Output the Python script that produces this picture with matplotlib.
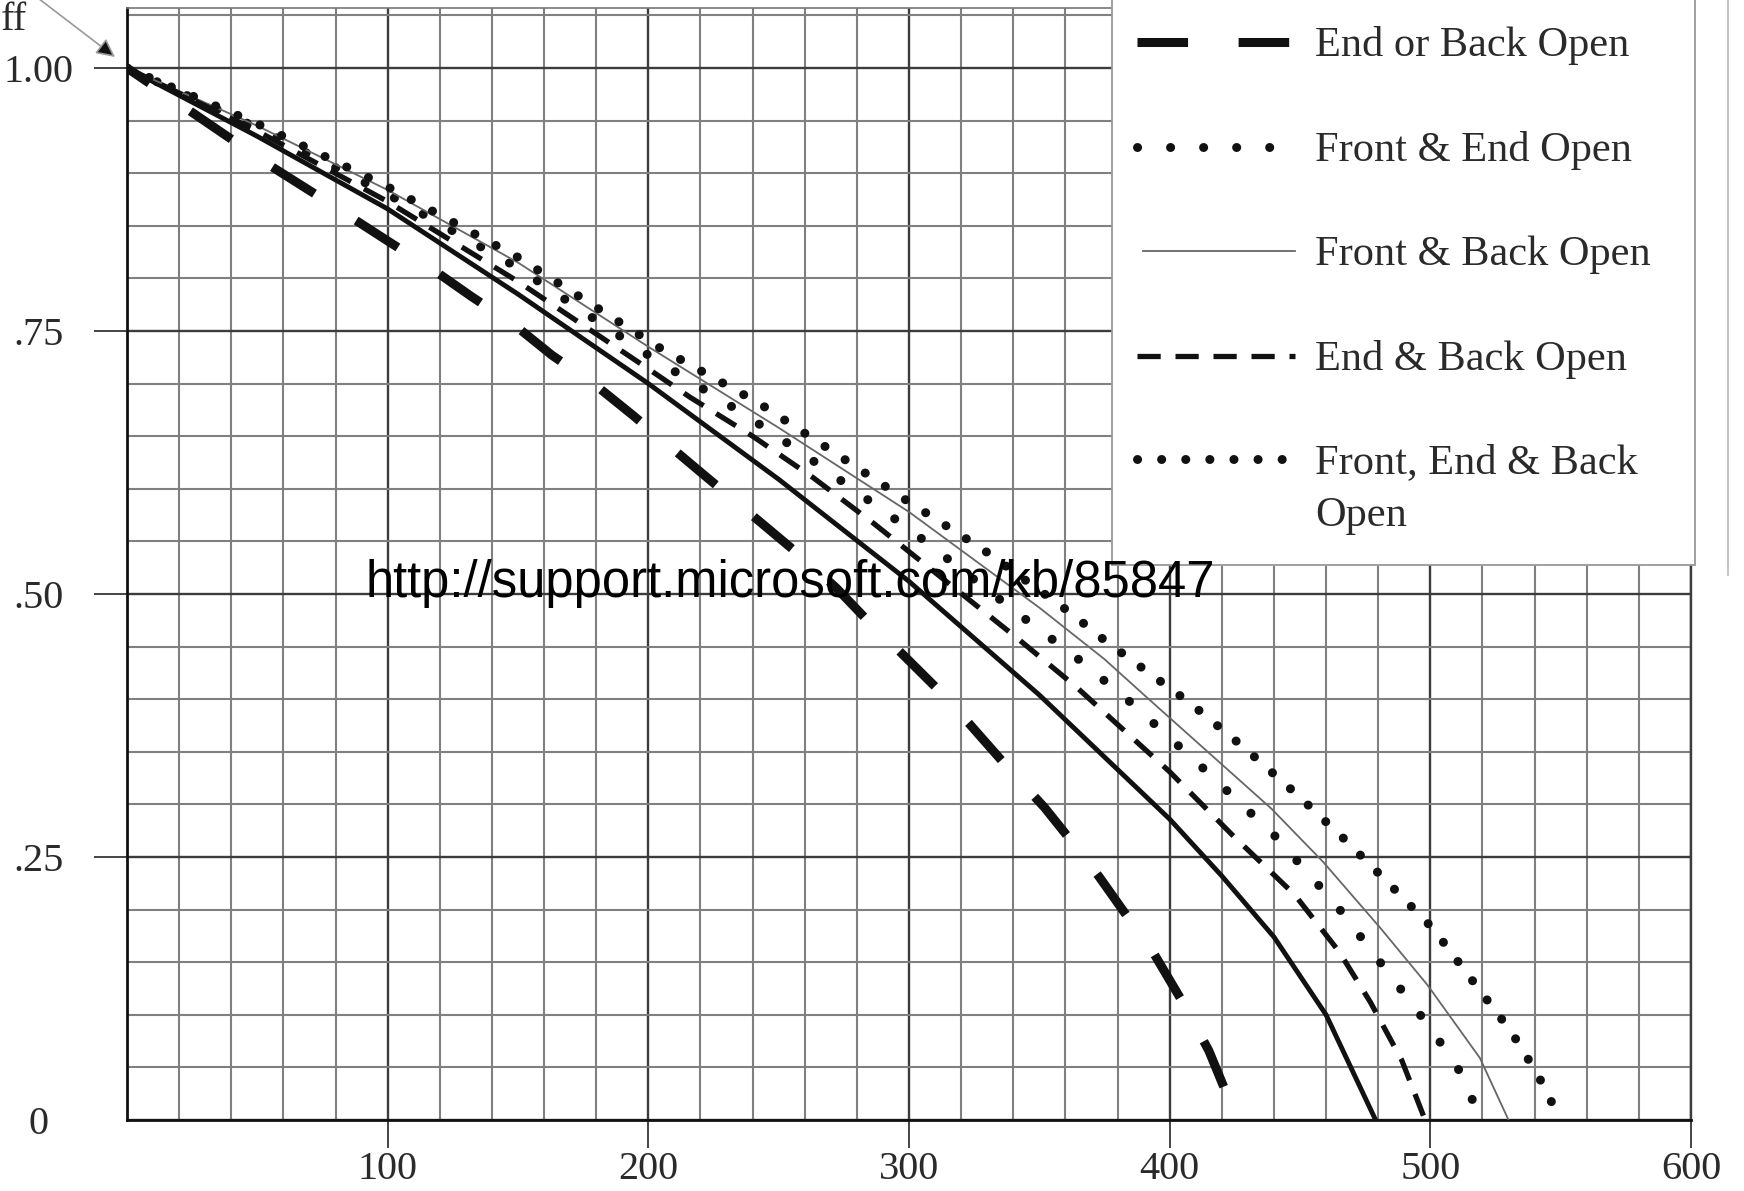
import matplotlib.pyplot as plt
import numpy as np
from matplotlib.patches import Rectangle
from matplotlib.lines import Line2D

plt.rcParams['font.family'] = ['Liberation Serif', 'DejaVu Serif']

# values: x (0-600) against fraction (0-1)
x_solid = [0, 50, 100, 150, 200, 250, 300, 350, 400, 420, 440, 460, 479]
y_solid = [1.0, 0.935, 0.866, 0.785, 0.700, 0.609, 0.512, 0.404, 0.286, 0.232, 0.174, 0.100, 0.0]

x_end_or_back = [0, 55, 71, 86, 101, 117, 132, 149, 163, 180, 194, 207, 219, 233, 246, 259,
                 272, 284, 297, 310, 323, 339, 352, 363, 373, 383, 394, 405, 415, 422, 426]
y_end_or_back = [1.0, 0.907, 0.882, 0.858, 0.834, 0.809, 0.783, 0.755, 0.727, 0.698, 0.670,
                 0.643, 0.618, 0.589, 0.562, 0.535, 0.506, 0.475, 0.444, 0.412, 0.377, 0.332,
                 0.297, 0.263, 0.231, 0.196, 0.158, 0.112, 0.066, 0.024, 0.0]

x_front_end = [0, 50, 100, 150, 200, 238, 259, 280, 301, 342, 364, 385, 413, 440, 464, 486, 501, 513, 519]
y_front_end = [1.0, 0.943, 0.880, 0.810, 0.727, 0.669, 0.634, 0.597, 0.560, 0.481, 0.440, 0.397,
               0.334, 0.271, 0.204, 0.133, 0.084, 0.040, 0.0]

x_front_back = [0, 50, 100, 150, 200, 250, 300, 350, 375, 392, 439, 459, 481, 499, 519, 530]
y_front_back = [1.0, 0.945, 0.884, 0.815, 0.735, 0.658, 0.578, 0.487, 0.438, 0.400, 0.296, 0.245,
                0.182, 0.128, 0.059, 0.0]

x_end_back = [0, 50, 100, 150, 200, 216, 240, 263, 286, 342, 364, 372, 400, 424, 448, 465, 477, 489, 498]
y_end_back = [1.0, 0.940, 0.873, 0.797, 0.714, 0.687, 0.650, 0.611, 0.568, 0.457, 0.412, 0.394,
              0.331, 0.271, 0.214, 0.160, 0.112, 0.057, 0.0]

x_all_three = [0, 50, 100, 150, 205, 242, 271, 299, 328, 362, 375, 408, 429, 449, 467, 484, 501,
               516, 531, 541, 550]
y_all_three = [1.0, 0.947, 0.887, 0.820, 0.733, 0.682, 0.635, 0.589, 0.543, 0.482, 0.456, 0.396,
               0.353, 0.309, 0.267, 0.225, 0.182, 0.133, 0.084, 0.044, 0.0]

legend_labels = ['End or Back Open', 'Front & End Open', 'Front & Back Open',
                 'End & Back Open', 'Front, End & Back\nOpen']
x_ticks = [100, 200, 300, 400, 500, 600]
y_ticks = [0, 0.25, 0.5, 0.75, 1.0]
y_tick_labels = ['0', '.25', '.50', '.75', '1.00']

# line styles
st_solid = dict(color='#111111', lw=3.5, solid_capstyle='butt', solid_joinstyle='round')
st_end_or_back = dict(color='#111111', lw=6.5, linestyle=(2.5, (5.5, 5.5)), dash_capstyle='butt')
st_front_end = dict(color='#111111', lw=6.5, linestyle=(0, (0.01, 3.65)), dash_capstyle='round')
st_front_back = dict(color='#666666', lw=1.3)
st_end_back = dict(color='#111111', lw=3.8, linestyle=(0, (4.4, 2.8)), dash_capstyle='butt')
st_all_three = dict(color='#111111', lw=6.5, linestyle=(0, (0.01, 2.66)), dash_capstyle='round')

W, H = 1744, 1191
fig = plt.figure(figsize=(W / 100, H / 100), dpi=100)
ax = fig.add_axes([127 / W, 71 / H, 1564 / W, 1112 / H])
ax.set_xlim(0, 600)
ax.set_ylim(0, 1.057)

# grid paper
ax.set_xticks(np.arange(20, 600, 20), minor=True)
ax.set_yticks(np.arange(0.05, 1.06, 0.05), minor=True)
ax.set_xticks(x_ticks)
ax.set_yticks(y_ticks)
ax.set_yticklabels(y_tick_labels)
ax.set_axisbelow(True)
ax.grid(which='minor', color='#808080', lw=1.5)
ax.grid(which='major', color='#3c3c3c', lw=1.7)
ax.tick_params(which='minor', length=0)
ax.tick_params(which='major', direction='out', color='#444444', width=1.4,
               labelsize=29, labelcolor='#2a2a2a')
ax.tick_params(axis='x', length=20, pad=2)
ax.tick_params(axis='y', length=24, pad=40)
for lab in ax.get_yticklabels():
    lab.set_ha('center')
ax.yaxis.get_major_ticks()[0].tick1line.set_visible(False)

for side in ['left', 'bottom']:
    ax.spines[side].set_color('#111111')
    ax.spines[side].set_linewidth(2.0)
ax.spines['top'].set_color('#777777')
ax.spines['top'].set_linewidth(1.2)
ax.spines['right'].set_color('#3c3c3c')
ax.spines['right'].set_linewidth(1.7)

# curves
ax.plot(x_solid, y_solid, zorder=4, **st_solid)
ax.plot(x_end_or_back, y_end_or_back, zorder=4, **st_end_or_back)
ax.plot(x_front_end, y_front_end, zorder=4, **st_front_end)
ax.plot(x_front_back, y_front_back, zorder=4, **st_front_back)
ax.plot(x_end_back, y_end_back, zorder=4, **st_end_back)
ax.plot(x_all_three, y_all_three, zorder=4, **st_all_three)

# legend box (runs off the top of the scan)
ax.add_patch(Rectangle((377.7, 0.528), 224, 0.7, fc='white', ec='#999999', lw=1.3,
                       zorder=3, clip_on=False))
fig.add_artist(Line2D([1728 / W, 1728 / W], [1 - 575 / H, 1.0], transform=fig.transFigure,
                      color='#bbbbbb', lw=1.2))

leg_end_or_back = dict(st_end_or_back, linestyle=(0, (5.6, 5.6)))
styles = [leg_end_or_back, st_front_end, st_front_back, st_end_back, st_all_three]
handle_x = [(1137, 1296), (1137, 1291), (1143, 1295), (1137, 1295), (1137, 1291)]
centers = [42, 147, 251, 356, 459]
for lab, st, (x0, x1), yc in zip(legend_labels, styles, handle_x, centers):
    yf = 1 - yc / H
    fig.add_artist(Line2D([x0 / W, x1 / W], [yf, yf], transform=fig.transFigure, **st))
    for j, line in enumerate(lab.split('\n')):
        fig.text(1315 / W, 1 - (yc + 14 + 53 * j) / H, line, fontsize=30.5, color='#2a2a2a',
                 va='baseline', ha='left')

# cut-off axis label and its arrow
fig.text(27 / W, 1 - 2 / H, 'ff', fontsize=29, color='#2a2a2a', ha='right', va='top')
ax.annotate('', xy=(115 / W, 1 - 57 / H), xycoords='figure fraction',
            xytext=(30 / W, 1 + 8 / H), textcoords='figure fraction',
            arrowprops=dict(arrowstyle='-|>', fc='#111111', ec='#999999', lw=1.2,
                            mutation_scale=28, shrinkA=0, shrinkB=0),
            annotation_clip=False)

fig.text(365 / W, 1 - 597 / H, 'http://support.microsoft.com/kb/85847', family='Liberation Sans',
         fontsize=36.5, color='black', ha='left', va='baseline', zorder=10)

fig.savefig('out.png', dpi=100)
